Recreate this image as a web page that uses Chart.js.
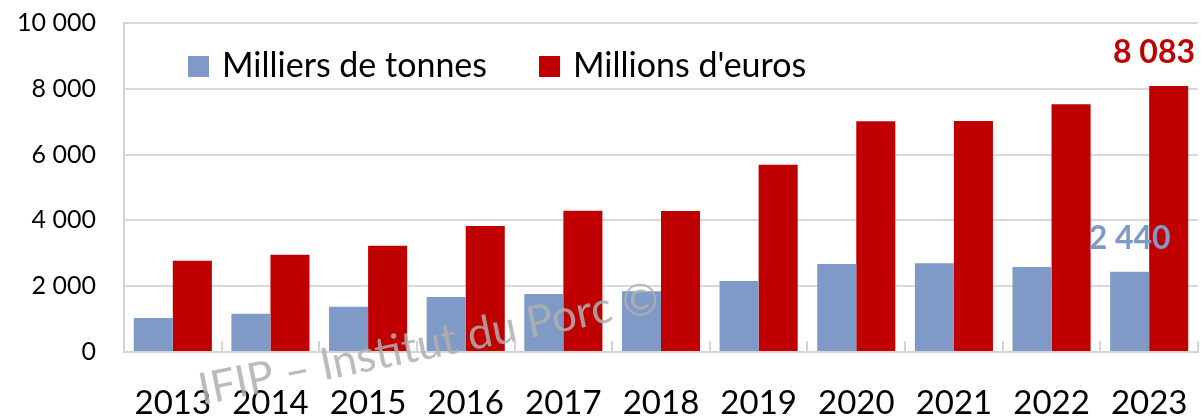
<!DOCTYPE html>
<html lang="fr">
<head>
<meta charset="UTF-8">
<script src="https://cdn.jsdelivr.net/npm/chart.js"></script>
<title>Porc - tonnes et euros</title>
<style>
  body { margin: 0; background: #fff; }
  #wrap { width: 1201px; height: 416px; }
</style>
</head>
<body>
<div id="wrap"><canvas id="myChart" width="1201" height="416"></canvas></div>
<script>
// valeurs
const years  = ['2013', '2014', '2015', '2016', '2017', '2018', '2019', '2020', '2021', '2022', '2023'];
const tonnes = [1035, 1160, 1375, 1670, 1760, 1850, 2155, 2675, 2700, 2580, 2440];
const euros  = [2775, 2955, 3230, 3830, 4290, 4285, 5690, 7015, 7025, 7530, 8083];
const yTicks = [0, 2000, 4000, 6000, 8000, 10000];
const seriesNames = ['Milliers de tonnes', "Millions d'euros"];

const BLUE = '#7f9ac7';
const RED = '#c00000';
const FONT = 'Lato, "Open Sans", sans-serif';

function fmt(v) {
    return String(v).replace(/\B(?=(\d{3})+(?!\d))/g, ' ');
}

// petits traits entre les annees, vers l'interieur
const tickMarks = {
    id: 'tickMarks',
    afterDatasetsDraw(chart) {
        const x = chart.scales.x, area = chart.chartArea, ctx = chart.ctx;
        ctx.save();
        ctx.strokeStyle = '#d4d4d4';
        ctx.lineWidth = 2;
        for (let i = 0; i <= years.length; i++) {
            const px = Math.round(x.getPixelForValue(i - 0.5));
            ctx.beginPath();
            ctx.moveTo(px, area.bottom);
            ctx.lineTo(px, area.bottom - 11);
            ctx.stroke();
        }
        ctx.restore();
    }
};

// legende dans la zone du graphique
const innerLegend = {
    id: 'innerLegend',
    afterDraw(chart) {
        const ctx = chart.ctx, area = chart.chartArea;
        ctx.save();
        ctx.font = '34px ' + FONT;
        ctx.textBaseline = 'middle';
        ctx.textAlign = 'left';
        let x = area.left + 64;
        const y = area.top + 43;
        chart.data.datasets.forEach(ds => {
            ctx.fillStyle = ds.backgroundColor;
            ctx.fillRect(x, y - 10, 21, 21);
            ctx.fillStyle = '#000';
            ctx.fillText(ds.label, x + 34, y);
            x += 34 + ctx.measureText(ds.label).width + 52;
        });
        ctx.restore();
    }
};

// etiquettes 2023 + filigrane
const lastLabels = {
    id: 'lastLabels',
    afterDraw(chart) {
        const ctx = chart.ctx;
        const n = years.length - 1;
        ctx.save();
        ctx.font = 'bold 32px ' + FONT;
        ctx.textAlign = 'center';
        ctx.textBaseline = 'middle';
        [[0, tonnes, BLUE], [1, euros, RED]].forEach(([i, arr, col]) => {
            const el = chart.getDatasetMeta(i).data[n];
            const txt = fmt(arr[n]);
            const w = ctx.measureText(txt).width;
            const cx = Math.min(el.x, chart.width - 6 - w / 2);
            ctx.fillStyle = col;
            ctx.fillText(txt, cx, el.y - 33);
        });

        ctx.translate(202, 405);
        ctx.rotate(-11.5 * Math.PI / 180);
        ctx.font = '44px ' + FONT;
        ctx.textAlign = 'left';
        ctx.textBaseline = 'alphabetic';
        ctx.fillStyle = 'rgba(175,175,175,0.85)';
        ctx.fillText('IFIP \u2013 Institut du Porc \u00a9', 0, 0);
        ctx.restore();
    }
};

const ctx = document.getElementById('myChart');
new Chart(ctx, {
    type: 'bar',
    data: {
        labels: years,
        datasets: [
            { label: seriesNames[0], data: tonnes, backgroundColor: BLUE },
            { label: seriesNames[1], data: euros, backgroundColor: RED }
        ]
    },
    options: {
        responsive: false,
        animation: false,
        layout: { padding: { top: 23, right: 3, left: 0, bottom: 0 } },
        datasets: { bar: { categoryPercentage: 0.8, barPercentage: 1 } },
        plugins: {
            legend: { display: false },
            tooltip: { enabled: false }
        },
        scales: {
            x: {
                grid: { display: false },
                border: { display: true, color: '#d4d4d4', width: 2 },
                ticks: { color: '#000', font: { family: FONT, size: 33 }, padding: 24, maxRotation: 0 },
                afterFit(scale) {
                    scale.height = 64;
                    scale.paddingLeft = 0;
                    scale.paddingRight = 0;
                }
            },
            y: {
                min: 0,
                max: 10000,
                afterBuildTicks(scale) { scale.ticks = yTicks.map(v => ({ value: v })); },
                grid: { color: '#d9d9d9', lineWidth: 2, drawTicks: false },
                border: { display: true, color: '#d4d4d4', width: 2 },
                ticks: {
                    color: '#000',
                    font: { family: FONT, size: 25 },
                    padding: 28,
                    callback: v => fmt(v)
                },
                afterFit(scale) {
                    scale.width = 124;
                    scale.paddingTop = 0;
                    scale.paddingBottom = 0;
                }
            }
        }
    },
    plugins: [tickMarks, innerLegend, lastLabels]
});
</script>
</body>
</html>
